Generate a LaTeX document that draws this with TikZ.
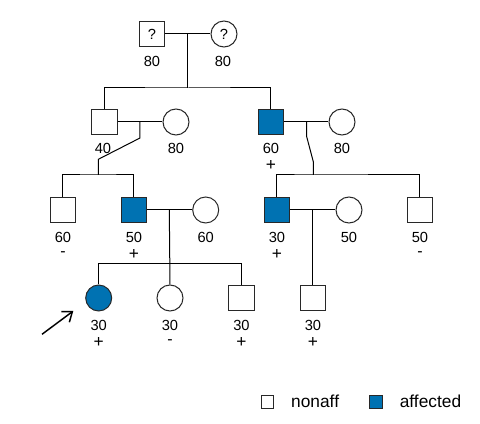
\documentclass[tikz,border=0pt]{standalone}
\usepackage{fontspec}
\setmainfont{Liberation Sans}
\usetikzlibrary{arrows.meta}
\definecolor{aff}{RGB}{0,114,178}
\definecolor{edge}{RGB}{40,40,40}
\begin{document}
\begin{tikzpicture}[x=0.75pt,y=-0.75pt,line width=0.75pt,
  male/.style={draw=edge,rectangle,minimum size=19.2pt,inner sep=0pt,font=\fontsize{11}{13}\selectfont},
  female/.style={draw=edge,circle,minimum size=19.5pt,inner sep=0pt,font=\fontsize{11}{13}\selectfont},
  affd/.style={fill=aff},
  num/.style={anchor=base,inner sep=0pt,font=\fontsize{11}{13}\selectfont},
  plus/.style={anchor=base,inner sep=0pt,font=\fontsize{13}{15}\selectfont},
  minus/.style={anchor=base,inner sep=0pt,font=\fontsize{12}{14}\selectfont},
  ln/.style={draw=black,line width=0.75pt},
  legbox/.style={draw=edge,rectangle,minimum size=9.5pt,inner sep=0pt},
  legtext/.style={anchor=base west,inner sep=0pt,font=\fontsize{13}{15}\selectfont}]
\useasboundingbox (0,0) rectangle (480,424);
% generation 1
\node[male]   (I1) at (152,34) {?};
\node[female] (I2) at (224,34) {?};
\node[num] (lI1) at (152,66.5) {80};
\node[num] (lI2) at (223,66.5) {80};
% generation 2
\node[male]        (II1) at (104.5,122) {};
\node[female]      (II2) at (176,122) {};
\node[male,affd]   (II3) at (271,122) {};
\node[female]      (II4) at (342,122) {};
\node[num] (lII1) at (103,154) {40};
\node[num] (lII2) at (176,154) {80};
\node[num] (lII3) at (271,154) {60};
\node[plus] (pII3) at (271,170.5) {+};
\node[num] (lII4) at (342,154) {80};
% generation 3
\node[male]        (III1) at (63,210) {};
\node[male,affd]   (III2) at (134,210) {};
\node[female]      (III3) at (205.7,210) {};
\node[male,affd]   (III4) at (277,210) {};
\node[female]      (III5) at (349,210) {};
\node[male]        (III6) at (420,210) {};
\node[num] (lIII1) at (63,243) {60};
\node[minus] (mIII1) at (63,256.5) {-};
\node[num] (lIII2) at (134,243) {50};
\node[plus] (pIII2) at (134,259.5) {+};
\node[num] (lIII3) at (205.7,243) {60};
\node[num] (lIII4) at (277,243) {30};
\node[plus] (pIII4) at (277,259.5) {+};
\node[num] (lIII5) at (349,243) {50};
\node[num] (lIII6) at (420,243) {50};
\node[minus] (mIII6) at (420,256.5) {-};
% generation 4
\node[female,affd] (IV1) at (98.7,298) {};
\node[female]      (IV2) at (170,298) {};
\node[male]        (IV3) at (241.5,298) {};
\node[male]        (IV4) at (313,298) {};
\node[num] (lIV1) at (98.7,331) {30};
\node[plus] (pIV1) at (98.7,347.5) {+};
\node[num] (lIV2) at (170,331) {30};
\node[minus] (mIV2) at (170,344.5) {-};
\node[num] (lIV3) at (241.5,331) {30};
\node[plus] (pIV3) at (241.5,347.5) {+};
\node[num] (lIV4) at (313,331) {30};
\node[plus] (pIV4) at (313,347.5) {+};
% coordinates
\coordinate (m1) at (188,34);
\coordinate (s1) at (188,88);
\coordinate (m2) at (140,122);
\coordinate (m2a) at (140,138);
\coordinate (m2b) at (98.3,159.3);
\coordinate (s2) at (98.3,175);
\coordinate (m3) at (306.7,122);
\coordinate (m3a) at (306.7,136.7);
\coordinate (m3b) at (313.3,161.7);
\coordinate (s3) at (313.3,175);
\coordinate (m4) at (169.3,210);
\coordinate (s4) at (169.3,263.3);
\coordinate (m5) at (313,210);
% lines generation 1
\draw[ln] (I1.east) -- (I2.west);
\draw[ln] (m1) -- (s1);
\draw[ln] (II1.north) |- (s1) -| (II3.north);
% generation 2 couples
\draw[ln] (II1.east) -- (II2.west);
\draw[ln] (m2) -- (m2a) -- (m2b) -- (s2);
\draw[ln] (III1.north) |- (s2) -| (III2.north);
\draw[ln] (II3.east) -- (II4.west);
\draw[ln] (m3) -- (m3a) -- (m3b) -- (s3);
\draw[ln] (III4.north) |- (s3) -| (III6.north);
% generation 3 couples
\draw[ln] (III2.east) -- (III3.west);
\draw[ln] (m4) -- (IV2.north);
\draw[ln] (IV1.north) |- (s4) -| (IV3.north);
\draw[ln] (III4.east) -- (III5.west);
\draw[ln] (m5) -- (IV4.north);
% proband arrow
\coordinate (arr) at (42,334.3);
\coordinate (arrend) at (73.3,311);
\draw[line width=1.1pt,-{Straight Barb[length=6.5pt,width=10pt]}] (arr) -- (arrend);
% legend
\node[legbox] (k1) at (267.5,402) {};
\node[legtext] (t1) at (290.7,408) {nonaff};
\node[legbox,affd] (k2) at (376,402) {};
\node[legtext] (t2) at (399.3,408) {affected};
\end{tikzpicture}
\end{document}
